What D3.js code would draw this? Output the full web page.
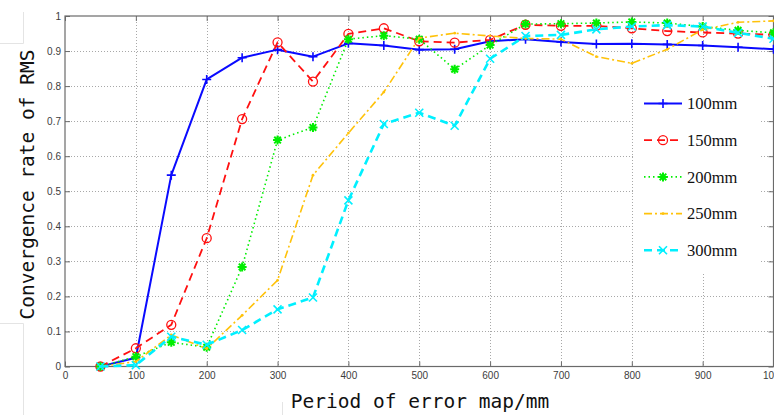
<!DOCTYPE html>
<html>
<head>
<meta charset="utf-8">
<script src="https://cdn.jsdelivr.net/npm/d3@7"></script>
<style>
  body { margin: 0; background: #fff; }
  svg { display: block; }
</style>
</head>
<body>
<svg id="chart" width="774" height="415"></svg>
<script>
// Period of the error map (mm)
const periods = [50, 100, 150, 200, 250, 300, 350, 400, 450, 500,
                 550, 600, 650, 700, 750, 800, 850, 900, 950, 1000];

// Convergence rate of RMS for each window size
const rate100 = [0, 0.025, 0.546, 0.819, 0.881, 0.904, 0.884, 0.922, 0.916, 0.904,
                 0.905, 0.928, 0.934, 0.926, 0.920, 0.921, 0.919, 0.916, 0.911, 0.905];
const rate150 = [0, 0.052, 0.119, 0.366, 0.706, 0.925, 0.813, 0.949, 0.965, 0.928,
                 0.924, 0.932, 0.975, 0.972, 0.972, 0.965, 0.957, 0.953, 0.950, 0.946];
const rate200 = [0, 0.028, 0.069, 0.055, 0.284, 0.646, 0.682, 0.934, 0.944, 0.934,
                 0.848, 0.917, 0.977, 0.978, 0.980, 0.983, 0.980, 0.970, 0.959, 0.952];
const rate250 = [0, 0.014, 0.090, 0.051, 0.146, 0.246, 0.546, 0.666, 0.783, 0.937,
                 0.951, 0.943, 0.936, 0.934, 0.884, 0.865, 0.905, 0.961, 0.982, 0.986];
const rate300 = [0, 0.004, 0.085, 0.062, 0.104, 0.163, 0.197, 0.474, 0.692, 0.724,
                 0.687, 0.878, 0.943, 0.946, 0.962, 0.970, 0.974, 0.970, 0.952, 0.935];

const seriesNames = ["100mm", "150mm", "200mm", "250mm", "300mm"];

const xTicks = [0, 100, 200, 300, 400, 500, 600, 700, 800, 900, 1000];
const yTicks = [0, 0.1, 0.2, 0.3, 0.4, 0.5, 0.6, 0.7, 0.8, 0.9, 1];

const styles = [
  { color: "#0a0aff", width: 2.0, dash: null,          marker: "plus"   },
  { color: "#ff1010", width: 1.8, dash: "8,5",         marker: "circle" },
  { color: "#00ee00", width: 1.6, dash: "1.5,3",       marker: "star"   },
  { color: "#ffc20a", width: 1.6, dash: "8,3,2,3",     marker: "point"  },
  { color: "#00f0ff", width: 2.6, dash: "8,5",         marker: "cross"  }
];
const seriesValues = [rate100, rate150, rate200, rate250, rate300];

const svg = d3.select("#chart");
const plotLeft = 65, plotRight = 773.5, plotTop = 16, plotBottom = 366.5;

const x = d3.scaleLinear().domain([0, 1000]).range([plotLeft, plotRight]);
const y = d3.scaleLinear().domain([0, 1]).range([plotBottom, plotTop]);

// faint frame remnants at the far left and bottom
const faint = svg.append("g").attr("stroke", "#e4e4e4").attr("stroke-width", 1).attr("fill", "none");
faint.append("path").attr("d", "M0,43.5H23.5V12");
faint.append("path").attr("d", "M0,323.5H23.5V415");
faint.append("path").attr("d", "M282.5,402V415");

// dotted grid
const grid = svg.append("g").attr("stroke", "#a8a8a8").attr("stroke-width", 1)
  .attr("stroke-dasharray", "1,2");
grid.selectAll("line.gx").data(xTicks.slice(1, -1)).join("line")
  .attr("x1", d => Math.round(x(d)) + 0.5).attr("x2", d => Math.round(x(d)) + 0.5)
  .attr("y1", plotTop).attr("y2", plotBottom);
grid.selectAll("line.gy").data(yTicks.slice(1, -1)).join("line")
  .attr("y1", d => Math.round(y(d)) + 0.5).attr("y2", d => Math.round(y(d)) + 0.5)
  .attr("x1", plotLeft).attr("x2", plotRight);

// axes with inward ticks
const axisColor = "#6a6a6a";
function styleAxis(g) {
  g.select(".domain").remove();
  g.selectAll(".tick line").attr("stroke", axisColor);
  g.selectAll(".tick text").attr("fill", "#3c3c3c")
    .attr("font-family", "Liberation Sans, Arial, sans-serif").attr("font-size", 10);
}
svg.append("g").attr("transform", `translate(0,${plotBottom})`)
  .call(d3.axisBottom(x).tickValues(xTicks).tickSizeInner(-5).tickSizeOuter(0).tickPadding(5.5)
    .tickFormat(d3.format("d")))
  .call(styleAxis);
svg.append("g").attr("transform", `translate(0,${plotTop})`)
  .call(d3.axisTop(x).tickValues(xTicks).tickSizeInner(-5).tickSizeOuter(0).tickFormat(""))
  .call(styleAxis);
svg.append("g").attr("transform", `translate(${plotLeft},0)`)
  .call(d3.axisLeft(y).tickValues(yTicks).tickSizeInner(-5).tickSizeOuter(0).tickPadding(4)
    .tickFormat(d => d === 0 || d === 1 ? d3.format("d")(d) : d3.format(".1f")(d)))
  .call(styleAxis);
svg.append("g").attr("transform", `translate(${plotRight},0)`)
  .call(d3.axisRight(y).tickValues(yTicks).tickSizeInner(-5).tickSizeOuter(0).tickFormat(""))
  .call(styleAxis);

// plot frame
svg.append("rect").attr("x", plotLeft).attr("y", plotTop)
  .attr("width", plotRight - plotLeft).attr("height", plotBottom - plotTop)
  .attr("fill", "none").attr("stroke", axisColor).attr("stroke-width", 1.2);

// marker shapes
function drawMarker(g, type, color) {
  if (type === "plus") {
    g.append("path").attr("d", "M-4.5,0H4.5M0,-4.5V4.5")
      .attr("stroke", color).attr("stroke-width", 1.6).attr("fill", "none");
  } else if (type === "circle") {
    g.append("circle").attr("r", 4.5)
      .attr("stroke", color).attr("stroke-width", 1.3).attr("fill", "none");
  } else if (type === "star") {
    g.append("path").attr("d", "M-4.5,0H4.5M0,-4.5V4.5M-3.3,-3.3L3.3,3.3M-3.3,3.3L3.3,-3.3")
      .attr("stroke", color).attr("stroke-width", 2).attr("fill", "none");
  } else if (type === "point") {
    g.append("circle").attr("r", 1.4).attr("fill", color);
  } else if (type === "cross") {
    g.append("path").attr("d", "M-4,-4L4,4M-4,4L4,-4")
      .attr("stroke", color).attr("stroke-width", 1.6).attr("fill", "none");
  }
}

// series lines and markers
const line = d3.line().x(d => x(d[0])).y(d => y(d[1]));
seriesValues.forEach((vals, i) => {
  const st = styles[i];
  const pts = periods.map((p, k) => [p, vals[k]]);
  const g = svg.append("g").attr("class", "series");
  g.append("path").datum(pts).attr("d", line)
    .attr("fill", "none").attr("stroke", st.color).attr("stroke-width", st.width)
    .attr("stroke-dasharray", st.dash).attr("stroke-linejoin", "round");
  pts.forEach(pt => {
    const m = g.append("g").attr("transform", `translate(${x(pt[0])},${y(pt[1])})`);
    drawMarker(m, st.marker, st.color);
  });
});

// legend
const legend = svg.append("g");
legend.append("rect").attr("x", 635).attr("y", 80).attr("width", 125).attr("height", 192)
  .attr("fill", "#fff");
seriesNames.forEach((name, i) => {
  const st = styles[i];
  const ly = 103.5 + i * 36.7;
  legend.append("line").attr("x1", 644).attr("x2", 682).attr("y1", ly).attr("y2", ly)
    .attr("stroke", st.color).attr("stroke-width", st.width).attr("stroke-dasharray", st.dash);
  drawMarker(legend.append("g").attr("transform", `translate(663,${ly})`), st.marker, st.color);
  legend.append("text").attr("x", 687).attr("y", ly + 5.8)
    .attr("font-family", "Liberation Serif, Times New Roman, serif").attr("font-size", 16.5)
    .attr("fill", "#111").text(name);
});

// axis titles
svg.append("text").attr("x", 420).attr("y", 408)
  .attr("text-anchor", "middle")
  .attr("font-family", "DejaVu Sans Mono, monospace").attr("font-size", 19.5)
  .attr("fill", "#111").text("Period of error map/mm");
svg.append("text").attr("transform", "translate(33.5,184.5) rotate(-90)")
  .attr("text-anchor", "middle")
  .attr("font-family", "DejaVu Sans Mono, monospace").attr("font-size", 19.5)
  .attr("fill", "#111").text("Convergence rate of RMS");
</script>
</body>
</html>
